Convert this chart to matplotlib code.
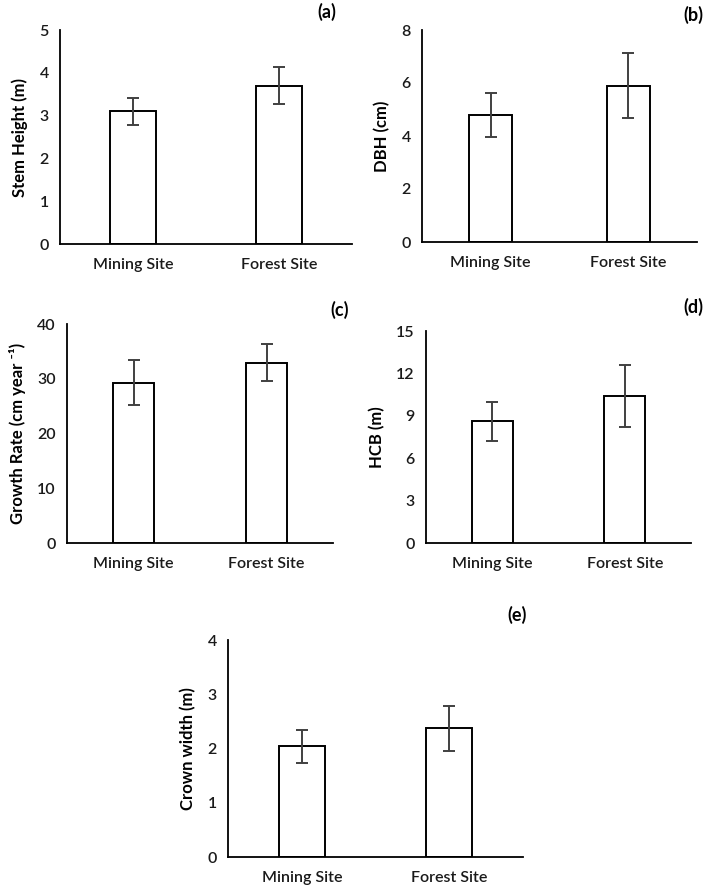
import matplotlib
matplotlib.use("Agg")
import matplotlib.pyplot as plt

plt.rcParams['font.family'] = ['Lato', 'DejaVu Sans']

sites = ["Mining Site", "Forest Site"]

stem_height = [3.1, 3.7]
stem_height_err = [0.31, 0.44]
dbh = [4.8, 5.9]
dbh_err = [0.82, 1.22]
growth_rate = [29.3, 32.9]
growth_rate_err = [4.1, 3.4]
hcb = [8.6, 10.4]
hcb_err = [1.4, 2.2]
crown_width = [2.04, 2.37]
crown_width_err = [0.31, 0.41]

W, H = 709, 888
fig = plt.figure(figsize=(W / 100, H / 100), dpi=100)


def px_axes(left, right, top, bottom):
    return fig.add_axes([left / W, 1 - bottom / H, (right - left) / W, (bottom - top) / H])


panels = [
    # (box in px, values, errors, ylabel, ymax, step, tag, tag position px)
    ((60, 352, 30, 244), stem_height, stem_height_err, "Stem Height (m)", 5, 1, "(a)", (327, 12)),
    ((422, 697, 30, 242), dbh, dbh_err, "DBH (cm)", 8, 2, "(b)", (693, 15)),
    ((67, 333, 324, 543), growth_rate, growth_rate_err, "Growth Rate (cm year ⁻¹)", 40, 10, "(c)", (340, 310)),
    ((426, 691, 331, 543), hcb, hcb_err, "HCB (m)", 15, 3, "(d)", (693, 307)),
    ((228, 523, 640, 857), crown_width, crown_width_err, "Crown width (m)", 4, 1, "(e)", (517, 615)),
]

for box, vals, errs, ylab, ymax, step, tag, tpos in panels:
    ax = px_axes(*box)
    x = range(len(sites))
    ax.bar(x, vals, width=0.31, color="white", edgecolor="black", linewidth=1.4, zorder=2)
    ax.errorbar(x, vals, yerr=errs, fmt="none", ecolor="#404040", elinewidth=1.4,
                capsize=4, capthick=1.4, zorder=3)
    ax.set_xlim(-0.5, 1.5)
    ax.set_ylim(0, ymax)
    ax.set_yticks(range(0, ymax + 1, step))
    ax.set_xticks(list(x))
    ax.set_xticklabels(sites)
    for lab in ax.get_xticklabels() + ax.get_yticklabels():
        lab.set_fontweight("semibold")
        lab.set_fontsize(11.5)
    ax.tick_params(axis="both", length=0, colors="#1a1a1a")
    ax.tick_params(axis="x", pad=10)
    ax.tick_params(axis="y", pad=8)
    for s in ["top", "right"]:
        ax.spines[s].set_visible(False)
    for s in ["left", "bottom"]:
        ax.spines[s].set_linewidth(1.3)
        ax.spines[s].set_color("black")
    ax.set_ylabel(ylab, fontsize=12, fontweight="bold", labelpad=8)
    fig.text(tpos[0] / W, 1 - tpos[1] / H, tag, fontsize=13, fontweight="bold",
             ha="center", va="center")

fig.savefig("out.png", dpi=100)
